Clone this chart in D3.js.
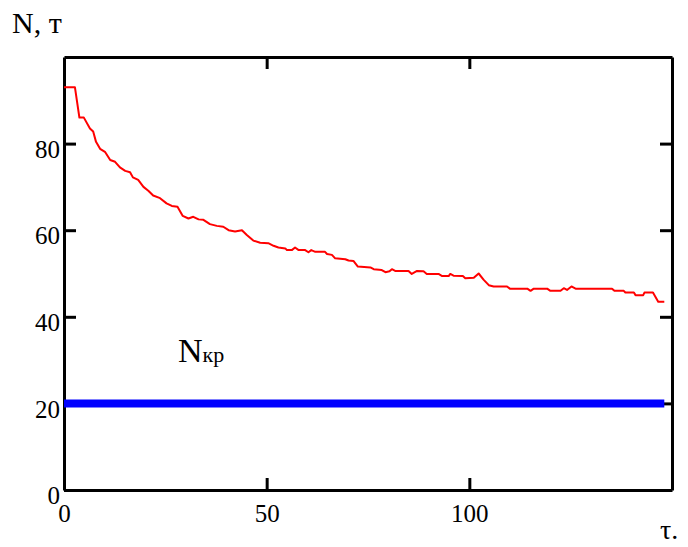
<!DOCTYPE html>
<html>
<head>
<meta charset="utf-8">
<script src="https://cdn.jsdelivr.net/npm/d3@7"></script>
<style>
    body { margin: 0; background: white; }
    svg, svg text { font-family: "Times New Roman", "Liberation Serif", "DejaVu Serif", serif; }
</style>
</head>
<body>
<div id="chart"></div>
<script>
// red curve, tau -> N
const tauValues = [0, 2.7, 3.8, 4.9, 6.4, 7.2, 7.9, 8.9, 10.1, 11.4, 12.6, 13.8, 15.1, 16.3, 17, 18.3, 19.6, 20.8, 22, 23.7, 25.3, 26.6, 28, 29.3, 30.7, 31.9, 33.2, 34.4, 36, 37.7, 39.3, 40.6, 42.2, 43.9, 45.1, 46.7, 48.4, 50.4, 51.7, 52.9, 54.6, 55, 56.2, 57, 57.9, 59.5, 60.3, 61, 62, 64.4, 64.9, 66.1, 66.9, 69.4, 70.2, 71.4, 72.5, 75.6, 76.4, 78.4, 79.3, 80.3, 80.9, 81.7, 85, 85.8, 87.1, 88.7, 89.5, 92.4, 93.3, 94.9, 95.3, 96.1, 98.4, 99, 101.1, 102.3, 103.5, 104.8, 106, 109.3, 110, 114.3, 115.1, 115.9, 119.2, 120, 122.5, 123.3, 124.1, 125.2, 126.2, 135.2, 135.8, 138.1, 138.5, 140.6, 141, 142.9, 143.2, 145.3, 146.6, 148.1];
const nValues = [93, 93, 86, 86, 83.5, 82.8, 80.4, 78.8, 78.1, 76.2, 75.8, 74.5, 73.7, 73.4, 72.2, 71.6, 70, 69.1, 68, 67.4, 66.2, 65.6, 65.4, 63.3, 62.7, 63.1, 62.5, 62.4, 61.4, 61, 60.8, 60, 59.7, 60, 58.9, 57.6, 57.1, 57, 56.4, 56, 55.8, 55.4, 55.4, 56, 55.4, 55.4, 54.9, 55.4, 55, 55, 54.5, 54.3, 53.5, 53.3, 53, 52.9, 51.6, 51.4, 51, 50.8, 50.3, 50.5, 51, 50.6, 50.6, 49.9, 50.6, 50.5, 49.9, 49.9, 49.4, 49.4, 49.9, 49.5, 49.4, 48.9, 49, 50, 48.6, 47.3, 47, 47, 46.5, 46.5, 46, 46.5, 46.5, 46, 46, 46.6, 46.2, 47, 46.5, 46.5, 46, 46, 45.6, 45.6, 45, 45, 45.6, 45.6, 43.5, 43.5];

// critical level N_кр
const critTau = [0, 148.1];
const critN = [20, 20];

const xTicks = [0, 50, 100];
const yTicks = [0, 20, 40, 60, 80];

const serif = "'Times New Roman', 'Liberation Serif', 'DejaVu Serif', serif";

const width = 688;
const height = 547;
const margin = {left: 64, right: 16, top: 57, bottom: 57};
const tickLen = 12;

const svg = d3.select("#chart")
    .append("svg")
    .attr("width",width)
    .attr("height",height);

const x = d3.scaleLinear().domain([0,150]).range([margin.left,width-margin.right]);
const y = d3.scaleLinear().domain([0,100]).range([height-margin.bottom,margin.top]);

// frame with inward ticks on all four sides
const axisBottom = d3.axisBottom(x).tickValues(xTicks).tickSizeInner(-tickLen).tickSizeOuter(0).tickPadding(14);
const axisTop = d3.axisTop(x).tickValues(xTicks.slice(1)).tickSizeInner(-tickLen).tickSizeOuter(0).tickFormat("");
const axisLeft = d3.axisLeft(y).tickValues(yTicks).tickSizeInner(-tickLen).tickSizeOuter(0).tickPadding(4);
const axisRight = d3.axisRight(y).tickValues(yTicks.slice(1)).tickSizeInner(-tickLen).tickSizeOuter(0).tickFormat("");

const drawAxis = (axis,tx,ty) =>
{
    const g = svg.append("g")
        .attr("transform",`translate(${tx},${ty})`)
        .call(axis)
        .attr("font-family",serif)
        .attr("font-size",25);
    g.selectAll("path,line").attr("stroke","black").attr("stroke-width",3);
    g.selectAll("text").attr("fill","black");
    return g;
}

const gx = drawAxis(axisBottom,0,height-margin.bottom);
gx.selectAll(".tick").filter(d => d == 0).select("line").remove();
drawAxis(axisTop,0,margin.top);
const gy = drawAxis(axisLeft,margin.left,0);
gy.selectAll("text").attr("dy","0.55em");
gy.selectAll(".tick").filter(d => d == 0).select("line").attr("x2",tickLen);
drawAxis(axisRight,width-margin.right,0);

// series
const line = d3.line()
    .x(d => x(d[0]))
    .y(d => y(d[1]));

svg.append("path")
    .datum(critTau.map((t,i) => [t,critN[i]]))
    .attr("fill","none")
    .attr("stroke","#0000ff")
    .attr("stroke-width",8)
    .attr("d",line);

svg.append("path")
    .datum(tauValues.map((t,i) => [t,nValues[i]]))
    .attr("fill","none")
    .attr("stroke","#ff0000")
    .attr("stroke-width",2)
    .attr("stroke-linejoin","round")
    .attr("d",line);

// labels
svg.append("text")
    .attr("x",12)
    .attr("y",33)
    .attr("font-family",serif)
    .attr("font-size",30)
    .text("N, т");

svg.append("text")
    .attr("x",660)
    .attr("y",539)
    .attr("font-family",serif)
    .attr("font-size",28)
    .text("τ.");

const crit = svg.append("text")
    .attr("x",178)
    .attr("y",362)
    .attr("font-family",serif);
crit.append("tspan").attr("font-size",34).text("N");
crit.append("tspan").attr("font-size",22).text("кр");
</script>
</body>
</html>
